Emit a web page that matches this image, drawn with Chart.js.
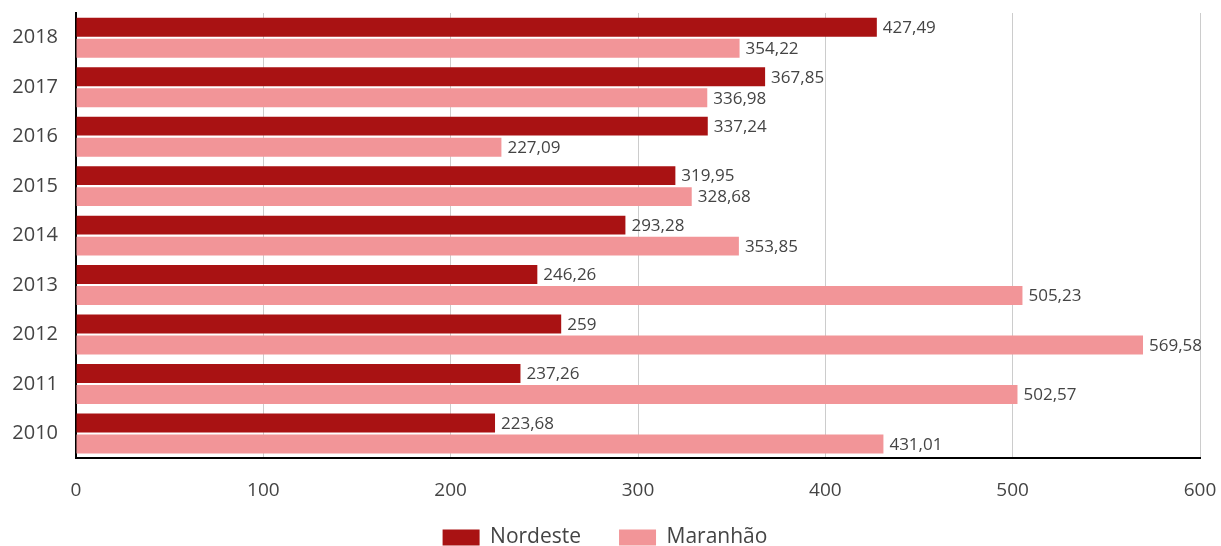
<!DOCTYPE html>
<html>
<head>
<meta charset="utf-8">
<script src="https://cdn.jsdelivr.net/npm/chart.js@4.4.0/dist/chart.umd.min.js"></script>
<style>
  html, body { margin: 0; padding: 0; background: #fff; }
  #wrap { width: 1221px; height: 546px; }
</style>
</head>
<body>
<div id="wrap"><canvas id="grafico" width="1221" height="546"></canvas></div>
<script>
const anos = ['2018', '2017', '2016', '2015', '2014', '2013', '2012', '2011', '2010'];
const nordeste = [427.49, 367.85, 337.24, 319.95, 293.28, 246.26, 259, 237.26, 223.68];
const maranhao = [354.22, 336.98, 227.09, 328.68, 353.85, 505.23, 569.58, 502.57, 431.01];
const ticksX = [0, 100, 200, 300, 400, 500, 600];

const corTexto = '#444';
const fonte = '"Open Sans", "Noto Sans", sans-serif';

// rótulos de valor no fim de cada barra
const rotulos = {
    id: 'rotulos',
    afterDatasetsDraw(chart) {
        const ctx = chart.ctx;
        ctx.save();
        ctx.font = '17px ' + fonte;
        ctx.fillStyle = corTexto;
        ctx.textBaseline = 'middle';
        ctx.textAlign = 'left';
        chart.data.datasets.forEach((ds, i) => {
            chart.getDatasetMeta(i).data.forEach((bar, j) => {
                const txt = String(ds.data[j]).replace('.', ',');
                ctx.fillText(txt, bar.x + 6, bar.y + 1);
            });
        });
        ctx.restore();
    }
};

new Chart(document.getElementById('grafico').getContext('2d'), {
    type: 'bar',
    data: {
        labels: anos,
        datasets: [
            { label: 'Nordeste', data: nordeste, backgroundColor: '#a91213' },
            { label: 'Maranhão', data: maranhao, backgroundColor: '#f29598' }
        ]
    },
    options: {
        indexAxis: 'y',
        responsive: false,
        animation: false,
        categoryPercentage: 0.85,
        barPercentage: 0.9,
        layout: { padding: { top: 13, right: 21, left: 10, bottom: -12 } },
        scales: {
            x: {
                min: 0,
                max: 600,
                afterBuildTicks: axis => { axis.ticks = ticksX.map(v => ({ value: v })); },
                afterFit: axis => {
                    axis.height -= 34;
                    axis.paddingLeft = 0;
                    axis.paddingRight = 0;
                    // os rótulos passam da caixa do eixo, então não cortar
                    axis._computeLabelArea = () => undefined;
                },
                grid: { color: '#cccccc', lineWidth: 1, drawTicks: false },
                border: { color: '#000', width: 2 },
                ticks: { color: corTexto, font: { family: fonte, size: 19 }, padding: 21 }
            },
            y: {
                afterFit: axis => {
                    axis.width = 66;
                    axis.paddingTop = 0;
                    axis.paddingBottom = 0;
                },
                grid: { display: false, drawTicks: false },
                border: { color: '#000', width: 2 },
                ticks: { color: corTexto, font: { family: fonte, size: 20 }, padding: 18 }
            }
        },
        plugins: {
            legend: {
                position: 'bottom',
                labels: {
                    color: corTexto,
                    font: { family: fonte, size: 21 },
                    boxWidth: 37,
                    boxHeight: 16,
                    padding: 38
                }
            },
            tooltip: { enabled: false }
        }
    },
    plugins: [rotulos]
});
</script>
</body>
</html>
